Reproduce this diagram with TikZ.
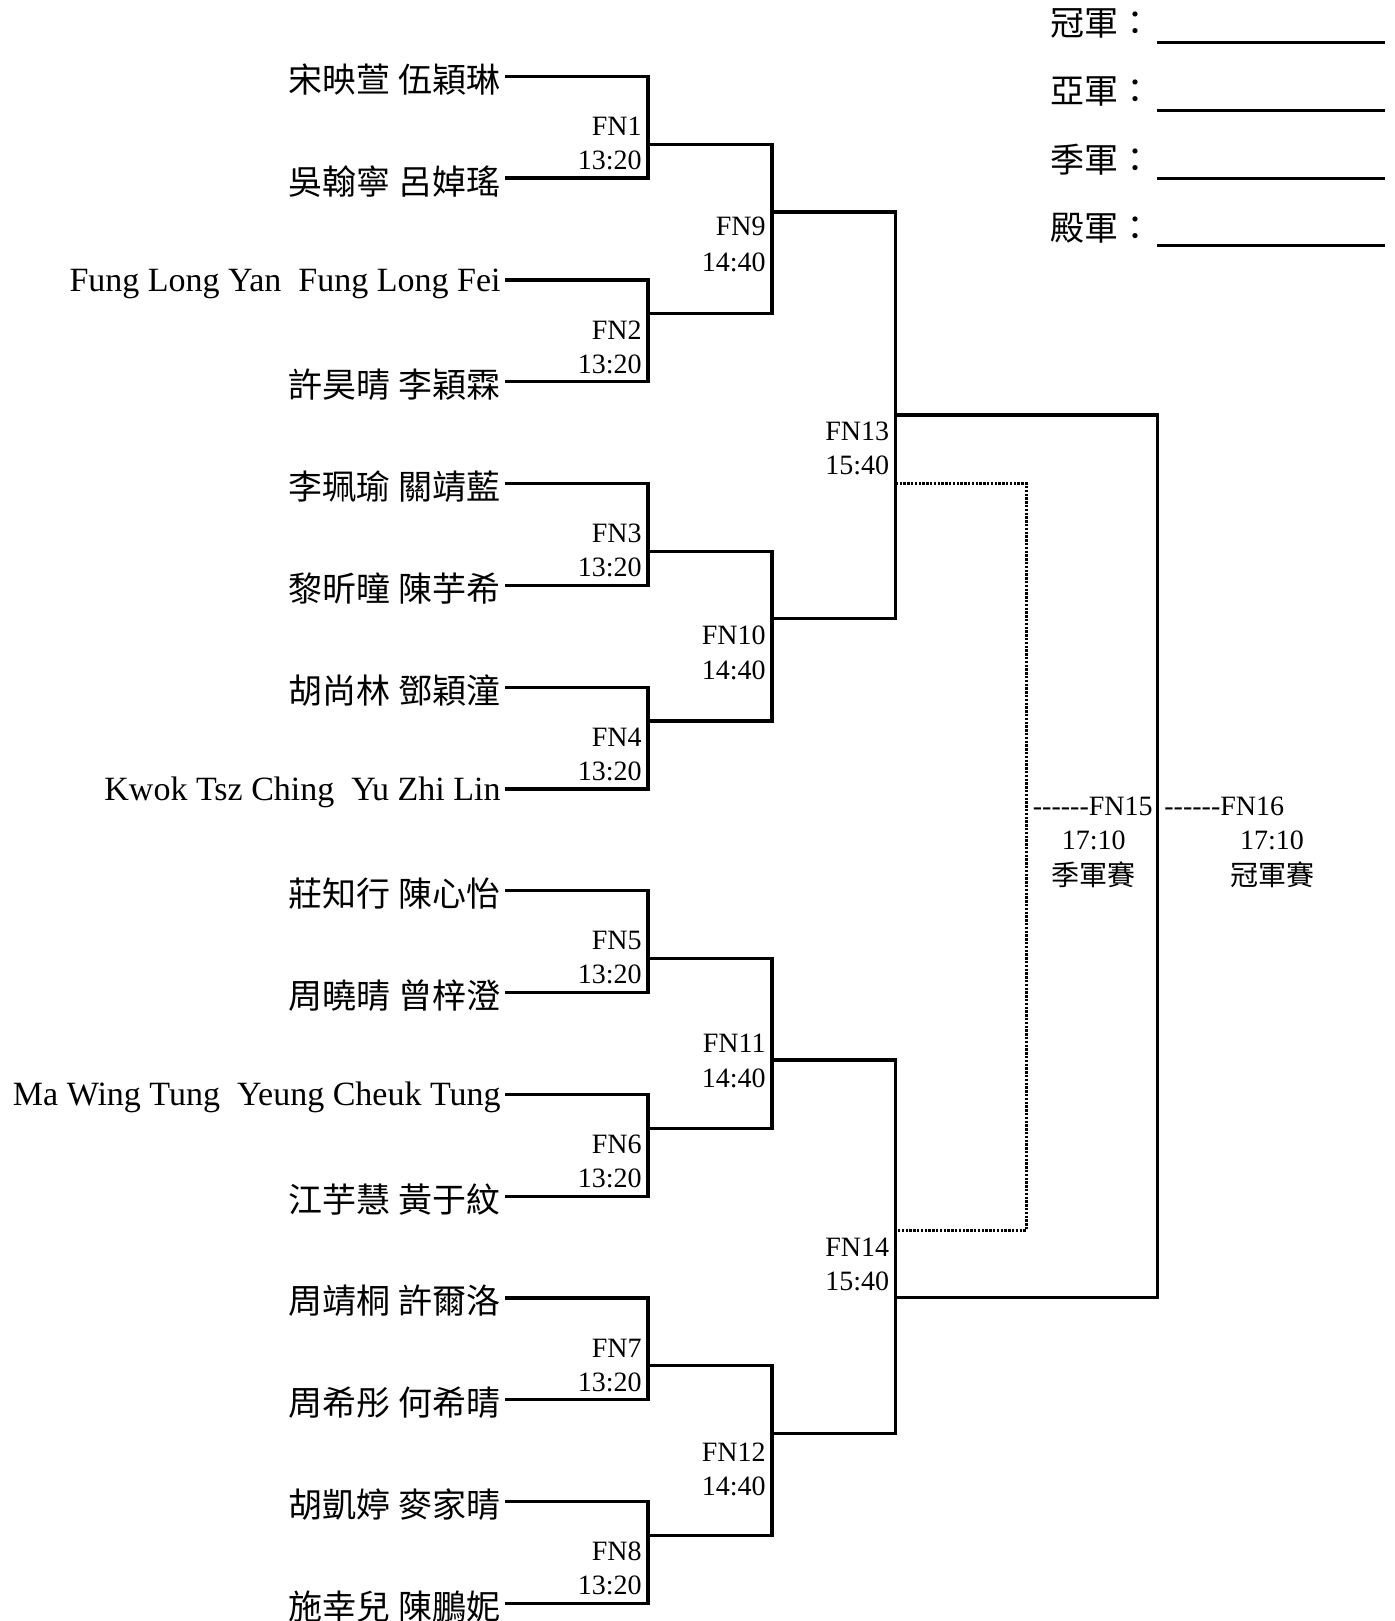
\documentclass[tikz,border=0pt]{standalone}
\usepackage{fontspec}
\setmainfont{Liberation Serif}
\newfontfamily\cjk{Noto Sans CJK TC}
\newcommand\hy{\mbox{-}}
\begin{document}
\begin{tikzpicture}[x=0.5pt,y=-0.5pt,
  br/.style={line width=1.6pt},
  dots/.style={line width=1.5pt, dash pattern=on 1.2pt off 0.7pt},
  lname/.style={anchor=east, inner xsep=2pt, inner ysep=0pt, text height=11.2pt, text depth=0pt, font=\fontsize{17}{20}\selectfont},
  zname/.style={anchor=east, inner xsep=2pt, inner ysep=0pt, text height=16pt, text depth=0pt, font=\fontsize{17}{20}\selectfont\cjk},
  mlab/.style={anchor=east, inner sep=0pt, font=\fontsize{14}{16}\selectfont},
  flab/.style={inner sep=0pt, font=\fontsize{14}{16}\selectfont},
  zlab/.style={inner sep=0pt, font=\fontsize{14}{16}\selectfont\cjk},
  rank/.style={anchor=west, inner sep=0pt, font=\fontsize{17}{20}\selectfont\cjk},
  blank/.style={line width=1.7pt}]
\useasboundingbox (0,0) rectangle (1394,1621);

% players
\node[zname] (p0) at (505,76.3) {宋映萱 伍穎琳};
\node[zname] (p1) at (505,178.1) {吳翰寧 呂婥瑤};
\node[lname] (p2) at (505,279.9) {Fung Long Yan~~Fung Long Fei};
\node[zname] (p3) at (505,381.7) {許昊晴 李穎霖};
\node[zname] (p4) at (505,483.5) {李珮瑜 關靖藍};
\node[zname] (p5) at (505,585.3) {黎昕曈 陳芋希};
\node[zname] (p6) at (505,687.1) {胡尚林 鄧穎潼};
\node[lname] (p7) at (505,788.9) {Kwok Tsz Ching~~Yu Zhi Lin};
\node[zname] (p8) at (505,890.7) {莊知行 陳心怡};
\node[zname] (p9) at (505,992.5) {周曉晴 曾梓澄};
\node[lname] (p10) at (505,1094.3) {Ma Wing Tung~~Yeung Cheuk Tung};
\node[zname] (p11) at (505,1196.1) {江芋慧 黃于紋};
\node[zname] (p12) at (505,1297.9) {周靖桐 許爾洛};
\node[zname] (p13) at (505,1399.7) {周希彤 何希晴};
\node[zname] (p14) at (505,1501.5) {胡凱婷 麥家晴};
\node[zname] (p15) at (505,1603.3) {施幸兒 陳鵬妮};

% match points
\coordinate (m1) at (648,144.2);
\coordinate (m2) at (648,313.8);
\coordinate (m3) at (648,551.4);
\coordinate (m4) at (648,721.0);
\coordinate (m5) at (648,958.6);
\coordinate (m6) at (648,1128.2);
\coordinate (m7) at (648,1365.8);
\coordinate (m8) at (648,1535.4);
\coordinate (m9) at (772,212);
\coordinate (m10) at (772,618.4);
\coordinate (m11) at (772,1060);
\coordinate (m12) at (772,1433.3);
\coordinate (m13) at (895.7,415);
\coordinate (m14) at (895.7,1297.7);
\coordinate (d13) at (895.7,483.7);
\coordinate (d14) at (895.7,1230);
\coordinate (f15) at (1026.5,806.7);
\coordinate (f16) at (1157.7,806.7);

% round 1
\draw[br] (p0.east) -| (m1) |- (p1.east);
\draw[br] (p2.east) -| (m2) |- (p3.east);
\draw[br] (p4.east) -| (m3) |- (p5.east);
\draw[br] (p6.east) -| (m4) |- (p7.east);
\draw[br] (p8.east) -| (m5) |- (p9.east);
\draw[br] (p10.east) -| (m6) |- (p11.east);
\draw[br] (p12.east) -| (m7) |- (p13.east);
\draw[br] (p14.east) -| (m8) |- (p15.east);
% round 2
\draw[br] (m1) -| (m9) |- (m2);
\draw[br] (m3) -| (m10) |- (m4);
\draw[br] (m5) -| (m11) |- (m6);
\draw[br] (m7) -| (m12) |- (m8);
% round 3
\draw[br] (m9) -| (m13) |- (m10);
\draw[br] (m11) -| (m14) |- (m12);
% finals
\draw[br] (m13) -| (f16) |- (m14);
\draw[dots] (d13) -| (f15) |- (d14);

% match labels
\node[mlab] (fn1) at (642,126.3) {FN1};   \node[mlab] (t1) at (642,160.3) {13:20};
\node[mlab] (fn2) at (642,329.9) {FN2};   \node[mlab] (t2) at (642,363.9) {13:20};
\node[mlab] (fn3) at (642,533.5) {FN3};   \node[mlab] (t3) at (642,567.5) {13:20};
\node[mlab] (fn4) at (642,737.1) {FN4};   \node[mlab] (t4) at (642,771.1) {13:20};
\node[mlab] (fn5) at (642,940.7) {FN5};   \node[mlab] (t5) at (642,974.7) {13:20};
\node[mlab] (fn6) at (642,1144.3) {FN6};  \node[mlab] (t6) at (642,1178.3) {13:20};
\node[mlab] (fn7) at (642,1347.9) {FN7};  \node[mlab] (t7) at (642,1381.9) {13:20};
\node[mlab] (fn8) at (642,1551.5) {FN8};  \node[mlab] (t8) at (642,1585.5) {13:20};
\node[mlab] (fn9) at (766,226.5) {FN9};   \node[mlab] (t9) at (766,262) {14:40};
\node[mlab] (fn10) at (766,635) {FN10};   \node[mlab] (t10) at (766,670) {14:40};
\node[mlab] (fn11) at (766,1043.3) {FN11}; \node[mlab] (t11) at (766,1078.3) {14:40};
\node[mlab] (fn12) at (766,1452) {FN12};  \node[mlab] (t12) at (766,1486) {14:40};
\node[mlab] (fn13) at (889.5,431.7) {FN13}; \node[mlab] (t13) at (889.5,465.5) {15:40};
\node[mlab] (fn14) at (889.5,1247) {FN14};  \node[mlab] (t14) at (889.5,1281) {15:40};

\node[flab,anchor=west] (fn15) at (1032.5,806.7) {\hy\hy\hy\hy\hy\hy FN15};
\node[flab] (t15) at (1093.7,840) {17:10};
\node[zlab] (g15) at (1093.7,875) {季軍賽};
\node[flab,anchor=west] (fn16) at (1164,806.7) {\hy\hy\hy\hy\hy\hy FN16};
\node[flab] (t16) at (1272,840) {17:10};
\node[zlab] (g16) at (1272,875) {冠軍賽};

% ranking
\node[rank] (r1) at (1050,23.3) {冠軍：};
\node[rank] (r2) at (1050,91.7) {亞軍：};
\node[rank] (r3) at (1050,160) {季軍：};
\node[rank] (r4) at (1050,228) {殿軍：};
\draw[blank] (1156.7,42.3) -- (1385,42.3);
\draw[blank] (1156.7,110.3) -- (1385,110.3);
\draw[blank] (1156.7,178.7) -- (1385,178.7);
\draw[blank] (1156.7,245.7) -- (1385,245.7);
\end{tikzpicture}
\end{document}
